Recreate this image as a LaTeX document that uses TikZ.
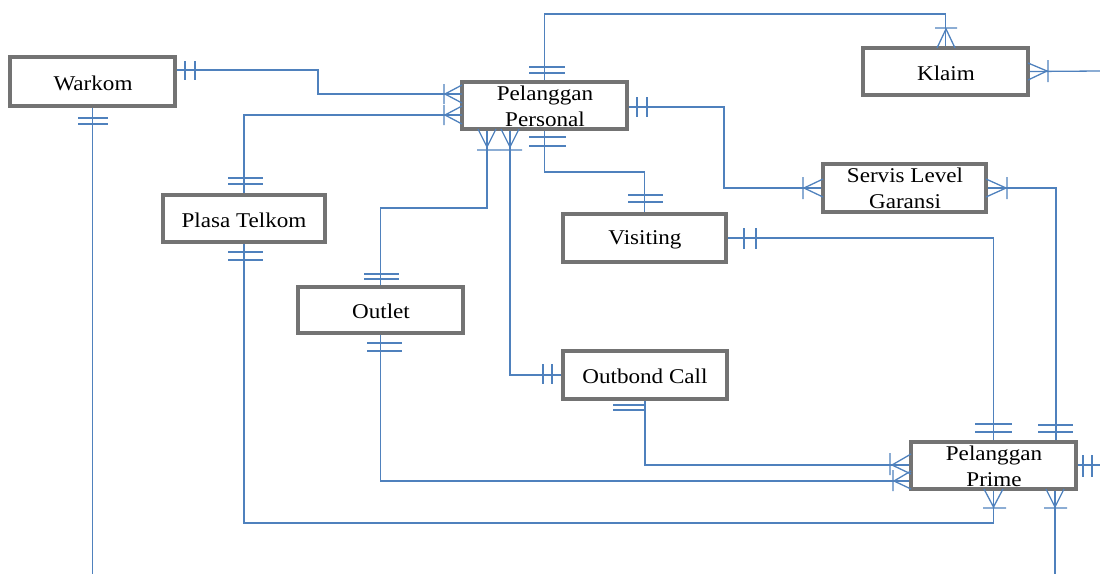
\documentclass[tikz,border=0pt]{standalone}
\usepackage{fontspec}
\setmainfont{Liberation Serif}[FakeStretch=1.1]
\begin{document}
\begin{tikzpicture}[x=1pt,y=-1pt,
  box/.style={draw=black!55, line width=3.5pt, fill=white, inner sep=0pt},
  lbl/.style={font=\fontsize{21}{26}\selectfont, align=center, inner sep=0pt},
  conn/.style={draw=erblue, line width=1.3pt},
  mk/.style={draw=erblue, line width=1.3pt}]
\definecolor{erblue}{RGB}{79,129,189}
\useasboundingbox (0,0) rectangle (1100,574);
% boxes
\node[box, minimum width=165, minimum height=49] (wk) at (92.5,81.5) {};
\node[box, minimum width=165, minimum height=47] (pp) at (544.5,105.5) {};
\node[box, minimum width=165, minimum height=47] (kl) at (945.5,71.5) {};
\node[box, minimum width=163, minimum height=48] (slg) at (904.5,188) {};
\node[box, minimum width=163, minimum height=48] (vis) at (644.5,238) {};
\node[box, minimum width=162, minimum height=47] (pt) at (244,218.5) {};
\node[box, minimum width=165, minimum height=46] (ol) at (380.5,310) {};
\node[box, minimum width=164, minimum height=48] (oc) at (645,375) {};
\node[box, minimum width=165, minimum height=47] (ppr) at (993.5,465.5) {};
% labels
\node[lbl] (wkt) at (93,83) {Warkom};
\node[lbl] (ppt) at (545,106) {Pelanggan\\Personal};
\node[lbl] (klt) at (946,73) {Klaim};
\node[lbl] (slgt) at (905,188) {Servis Level\\Garansi};
\node[lbl] (vist) at (645,240) {Visiting};
\node[lbl] (ptt) at (244,220) {Plasa Telkom};
\node[lbl] (olt) at (381,311) {Outlet};
\node[lbl] (oct) at (645,376) {Outbond Call};
\node[lbl] (pprt) at (994,466) {Pelanggan\\Prime};
% free ends
\coordinate (endwk) at (92.5,574);
\coordinate (endppr1) at (1055,574);
\coordinate (endppr2) at (1100,465);
\coordinate (endkl) at (1100,71);
% connectors
\draw[conn] (wk.east |- 0,70) -| (318,94) -- (pp.west |- 0,94);
\draw[conn] (pt.north) |- (pp.west |- 0,115);
\draw[conn] (wk.south) -- (endwk);
\draw[conn] (pt.south) |- (ppr.south |- 0,523) -- (ppr.south);
\draw[conn] (ppr.south -| endppr1) -- (endppr1);
\draw[conn] (ppr.east |- endppr2) -- (endppr2);
\draw[conn] (oc.south) |- (ppr.west |- 0,465);
\draw[conn] (ol.south) |- (ppr.west |- 0,481);
\draw[conn] (ol.north) |- (487,208) -- (pp.south -| 487,0);
\draw[conn] (pp.south -| 510,0) |- (oc.west);
\draw[conn] (pp.south) |- (vis.north |- 0,172) -- (vis.north);
\draw[conn] (pp.north) |- (kl.north |- 0,14) -- (kl.north);
\draw[conn] (kl.east) -- (endkl);
\draw[conn] (pp.east |- 0,107) -| (724,188) -- (slg.west);
\draw[conn] (slg.east) -| (ppr.north -| 1056,0);
\draw[conn] (vis.east) -| (ppr.north);
% one-and-only-one bars
\draw[mk] (185,61) -- (185,80) (195,61) -- (195,80);            % warkom east
\draw[mk] (78,118) -- (108,118) (78,124) -- (108,124);          % warkom south
\draw[mk] (228,178) -- (263,178) (228,184) -- (263,184);        % plasa north
\draw[mk] (228,252) -- (263,252) (228,260) -- (263,260);        % plasa south
\draw[mk] (364,274) -- (399,274) (364,279) -- (399,279);        % outlet north
\draw[mk] (367,343) -- (402,343) (367,351) -- (402,351);        % outlet south
\draw[mk] (613,405) -- (645,405) (613,410) -- (645,410);        % outbond south
\draw[mk] (543,364) -- (543,384) (552,364) -- (552,384);        % outbond west
\draw[mk] (529,137) -- (566,137) (529,146) -- (566,146);        % pp south
\draw[mk] (628,195) -- (663,195) (628,202) -- (663,202);        % visiting north
\draw[mk] (529,67) -- (565,67) (529,73) -- (565,73);            % pp north
\draw[mk] (637,97) -- (637,117) (647,97) -- (647,117);          % pp east
\draw[mk] (744,228) -- (744,249) (756,228) -- (756,249);        % visiting east
\draw[mk] (975,424) -- (1012,424) (975,432) -- (1012,432);      % ppr north 1
\draw[mk] (1038,425) -- (1073,425) (1038,432) -- (1073,432);    % ppr north 2
\draw[mk] (1083,455) -- (1083,477) (1092,455) -- (1092,477);    % ppr east
% crow's feet
% pp west
\draw[mk] (462,85) -- (445,94) -- (462,103) (445,94) -- (462,94) (444,84) -- (444,104);
\draw[mk] (462,106) -- (445,115) -- (462,124) (445,115) -- (462,115) (444,105) -- (444,125);
% pp south
\draw[mk] (478,129) -- (487,147) -- (496,129) (477,150) -- (500,150);
\draw[mk] (501,129) -- (510,147) -- (519,129) (500,150) -- (522,150);
% klaim north
\draw[mk] (937,48) -- (946,29) -- (955,48) (935,28) -- (957,28);
% klaim east
\draw[mk] (1028,63) -- (1047,71) -- (1028,80) (1048,60) -- (1048,82);
% servis west / east
\draw[mk] (823,179) -- (804,188) -- (823,197) (803,177) -- (803,199);
\draw[mk] (986,179) -- (1006,188) -- (986,197) (1007,177) -- (1007,199);
% ppr west
\draw[mk] (911,454) -- (892,465) -- (911,474) (890,453) -- (890,475);
\draw[mk] (911,471) -- (894,481) -- (911,489) (893,470) -- (893,491);
% ppr south
\draw[mk] (984,489) -- (993.5,507) -- (1003,489) (983,508) -- (1006,508);
\draw[mk] (1046,489) -- (1055,507) -- (1064,489) (1044,508) -- (1067,508);
\end{tikzpicture}
\end{document}
